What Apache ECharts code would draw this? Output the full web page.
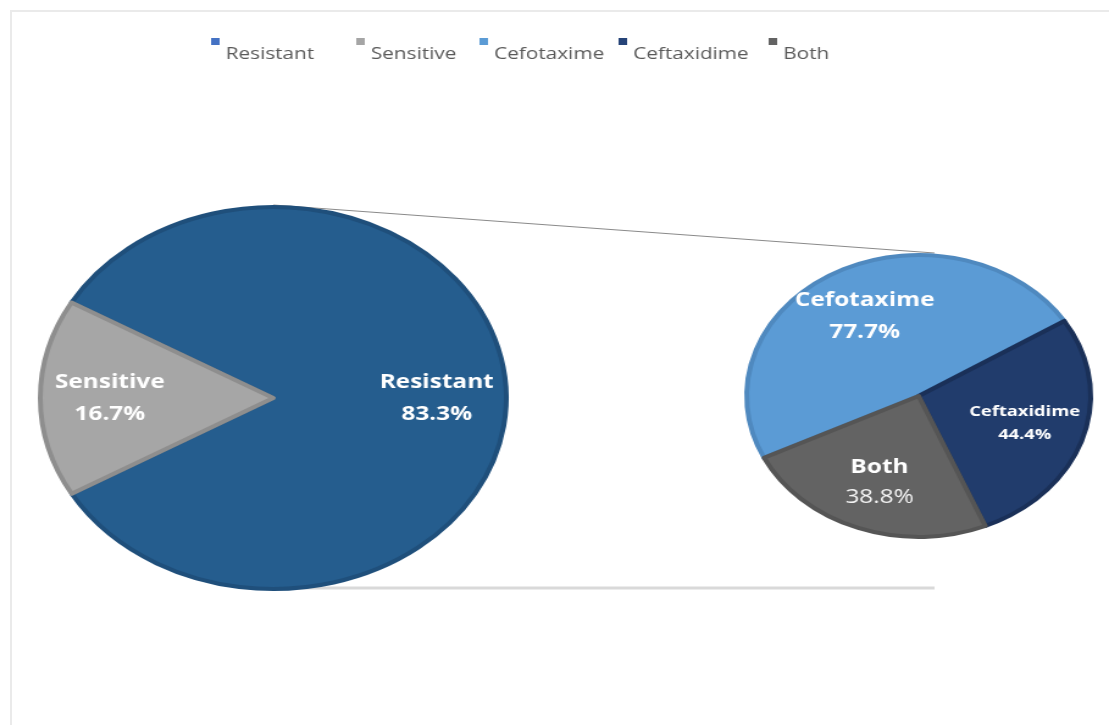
<!DOCTYPE html>
<html>
<head>
<meta charset="utf-8">
<script src="https://cdn.jsdelivr.net/npm/echarts@6/dist/echarts.min.js"></script>
<style>
  html, body { margin: 0; padding: 0; background: #ffffff; overflow: hidden; }
  #frame { position: absolute; left: 10px; top: 10px; width: 1200px; height: 800px; border: 2px solid #EAEAEA; }
  /* the chart is laid out narrow and stretched sideways, which turns both pies into ellipses */
  #chart { position: absolute; left: 0; top: 0; width: 909px; height: 725px; transform: scaleX(1.22); transform-origin: 0 0; }
</style>
</head>
<body>
<div id="frame"></div>
<div id="chart"></div>
<script>
// Primary pie: all isolates
const mainCategories = ['Resistant', 'Sensitive'];
const mainValues = [83.3, 16.7];

// Secondary pie: breakdown of the resistant isolates
const subCategories = ['Cefotaxime', 'Ceftaxidime', 'Both'];
const subValues = [77.7, 44.4, 38.8];

// Styling
const sliceColors = {
  Resistant: '#255D8E', Sensitive: '#A6A6A6',
  Cefotaxime: '#5B9BD5', Ceftaxidime: '#213C6C', Both: '#636363'
};
const borderColors = {
  Resistant: '#1F4F7B', Sensitive: '#8E8E8E',
  Cefotaxime: '#4F89BF', Ceftaxidime: '#1A3058', Both: '#555555'
};
const legendColors = {
  Resistant: '#4472C4', Sensitive: '#A5A5A5',
  Cefotaxime: '#5B9BD5', Ceftaxidime: '#264478', Both: '#636363'
};
const legendLeft = [173, 292, 393, 507, 630];

const LEFT = { cx: 224, cy: 398, r: 191 };
const RIGHT = { cx: 753, cy: 396, r: 141 };

const FONT = '"Open Sans", "Noto Sans", sans-serif';

const rich = {
  nb: { fontFamily: FONT, fontSize: 20, fontWeight: 'bold', color: '#FFFFFF', lineHeight: 32, align: 'center' },
  vb: { fontFamily: FONT, fontSize: 20, fontWeight: 'bold', color: '#FFFFFF', lineHeight: 32, align: 'center' },
  vr: { fontFamily: FONT, fontSize: 20, fontWeight: 'normal', color: '#F4F4F4', lineHeight: 29, align: 'center' },
  ns: { fontFamily: FONT, fontSize: 15, fontWeight: 'bold', color: '#FFFFFF', lineHeight: 23, align: 'center' },
  vs: { fontFamily: FONT, fontSize: 15, fontWeight: 'bold', color: '#FFFFFF', lineHeight: 23, align: 'center' }
};
const labelKeys = {
  Ceftaxidime: ['ns', 'vs'],
  Both: ['nb', 'vr']
};

function labelFormatter(p) {
  const keys = labelKeys[p.name] || ['nb', 'vb'];
  return '{' + keys[0] + '|' + p.name + '}\n{' + keys[1] + '|' + p.value.toFixed(1) + '%}';
}

// push the inside labels outward from half radius to the given fraction of the radius
function radialShift(pie, frac) {
  return function (params) {
    const lr = params.labelRect;
    const x = lr.x + lr.width / 2;
    const y = lr.y + lr.height / 2;
    const k = frac / 0.5 - 1;
    return { dx: (x - pie.cx) * k, dy: (y - pie.cy) * k };
  };
}

function sliceData(names, values) {
  return names.map(function (n, i) {
    return {
      name: n,
      value: values[i],
      itemStyle: { color: sliceColors[n], borderColor: borderColors[n], borderWidth: 4, borderJoin: 'round' }
    };
  });
}

const allNames = mainCategories.concat(subCategories);
const legends = allNames.map(function (n, i) {
  return {
    data: [{ name: n, itemStyle: { color: legendColors[n], borderWidth: 0, borderColor: 'transparent' } }],
    left: legendLeft[i],
    top: 38,
    padding: 0,
    selectedMode: false,
    // small square riding at the top of a tall icon box
    icon: 'path://M0,0H7V7H0Z M0,31.99H0.01V32H0Z',
    itemWidth: 7,
    itemHeight: 32,
    itemStyle: { borderWidth: 0 },
    textStyle: { fontFamily: FONT, fontSize: 17, color: '#595959' }
  };
});

const chart = echarts.init(document.getElementById('chart'), null, { renderer: 'canvas' });
chart.setOption({
  animation: false,
  backgroundColor: 'transparent',
  legend: legends,
  graphic: [
    {
      type: 'line', z: 0, silent: true,
      shape: { x1: LEFT.cx, y1: LEFT.cy - LEFT.r - 2, x2: RIGHT.cx + 13, y2: RIGHT.cy - RIGHT.r - 2 },
      style: { stroke: '#8A8A8A', lineWidth: 1.2 }
    },
    {
      type: 'line', z: 0, silent: true,
      shape: { x1: LEFT.cx, y1: LEFT.cy + LEFT.r - 1, x2: RIGHT.cx + 13, y2: LEFT.cy + LEFT.r - 1 },
      style: { stroke: '#D9D9D9', lineWidth: 3 }
    }
  ],
  series: [
    {
      name: 'All isolates',
      type: 'pie',
      center: [LEFT.cx, LEFT.cy],
      radius: [0, LEFT.r],
      startAngle: 150,
      clockwise: true,
      silent: true,
      z: 3,
      emphasis: { disabled: true },
      data: sliceData(mainCategories, mainValues),
      label: { show: true, position: 'inside', formatter: labelFormatter, rich: rich },
      labelLine: { show: false },
      labelLayout: radialShift(LEFT, 0.68)
    },
    {
      name: 'Resistant isolates',
      type: 'pie',
      center: [RIGHT.cx, RIGHT.cy],
      radius: [0, RIGHT.r],
      startAngle: 206,
      clockwise: true,
      silent: true,
      z: 3,
      emphasis: { disabled: true },
      data: sliceData(subCategories, subValues),
      label: { show: true, position: 'inside', formatter: labelFormatter, rich: rich },
      labelLine: { show: false },
      labelLayout: radialShift(RIGHT, 0.62)
    }
  ]
});
</script>
</body>
</html>
